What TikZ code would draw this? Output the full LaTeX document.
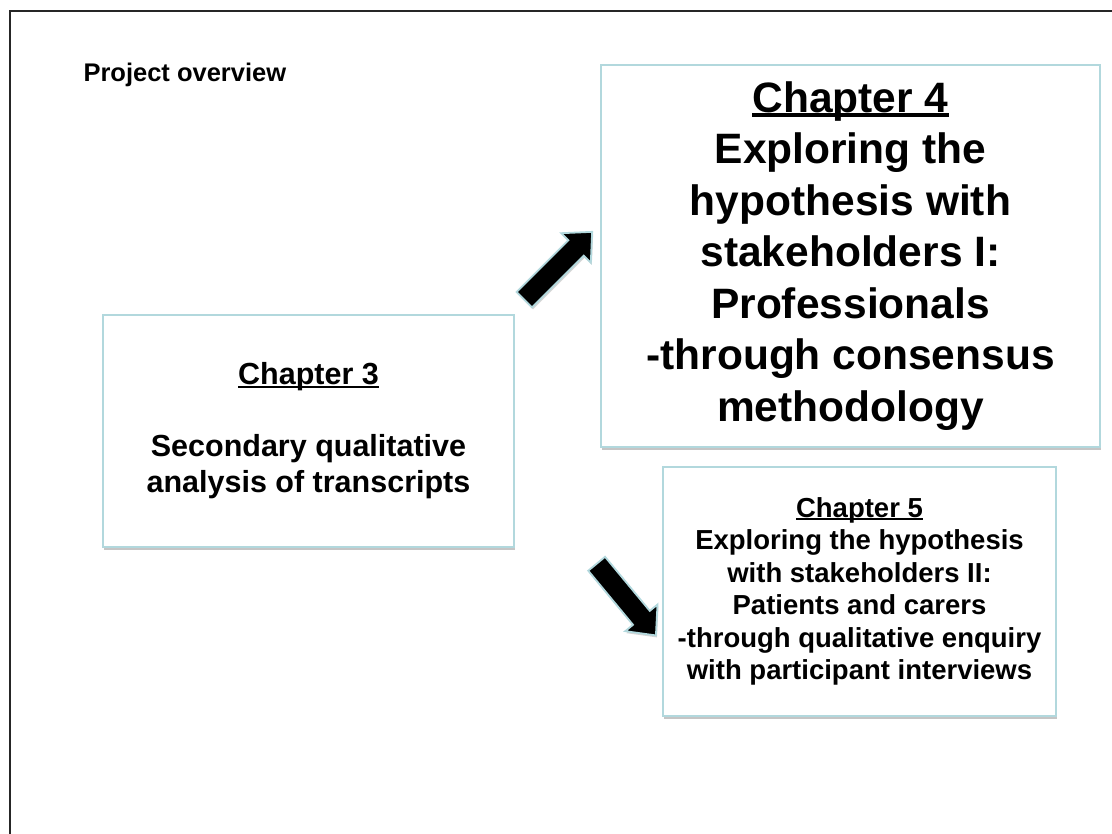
\documentclass[tikz,border=0pt]{standalone}
\usepackage{fontspec}
\setmainfont{Liberation Sans}
\usetikzlibrary{shapes.arrows,shadows}
\definecolor{boxedge}{RGB}{178,216,221}
\newcommand\myul[1]{\setbox0\hbox{#1}\rlap{\rule[-0.1em]{\wd0}{0.075em}}\box0}
\begin{document}
\begin{tikzpicture}[x=1pt,y=-1pt,
  chbox/.style={draw=boxedge, line width=2.5pt, fill=white, align=center,
    inner sep=0pt, font=\bfseries,
    drop shadow={shadow xshift=1pt, shadow yshift=-3pt, fill=black!45, opacity=0.5}},
  blockarrow/.style={single arrow, draw=boxedge, line width=1.8pt, fill=black,
    inner sep=10pt, minimum width=40pt, single arrow head extend=10pt,
    single arrow tip angle=85,
    drop shadow={shadow xshift=1pt, shadow yshift=-2pt, fill=black!40, opacity=0.4}}]
\useasboundingbox (0,0) rectangle (1112,834);
\fill[white] (0,0) rectangle (1112,834);
\draw[line width=1.6pt, black!85] (1112,11) -- (10,11) -- (10,834);
\node[anchor=base west, font=\bfseries\fontsize{25.5}{30}\selectfont] (title) at (80,82) {Project overview};
\node[chbox, minimum width=411pt, minimum height=232pt,
  font=\bfseries\fontsize{30.5}{36}\selectfont] (ch3) at (308.5,431)
  {\myul{Chapter 3}\\[36pt]Secondary qualitative\\analysis of transcripts};
\node[chbox, minimum width=499pt, minimum height=382pt,
  font=\bfseries\fontsize{42.5}{51.5}\selectfont] (ch4) at (850.5,256)
  {\myul{Chapter 4}\\Exploring the\\hypothesis with\\stakeholders I:\\Professionals\\-through consensus\\methodology};
\node[chbox, minimum width=393pt, minimum height=249pt,
  font=\bfseries\fontsize{27.5}{32.5}\selectfont] (ch5) at (859.5,591.5)
  {\myul{Chapter 5}\\Exploring the hypothesis\\with stakeholders II:\\Patients and carers\\-through qualitative enquiry\\with participant interviews};
\node[blockarrow, minimum height=96pt, rotate=45] (up) at (554,270) {};
\node[blockarrow, minimum height=93pt, rotate=-50.4] (down) at (622.5,595) {};
\end{tikzpicture}
\end{document}
